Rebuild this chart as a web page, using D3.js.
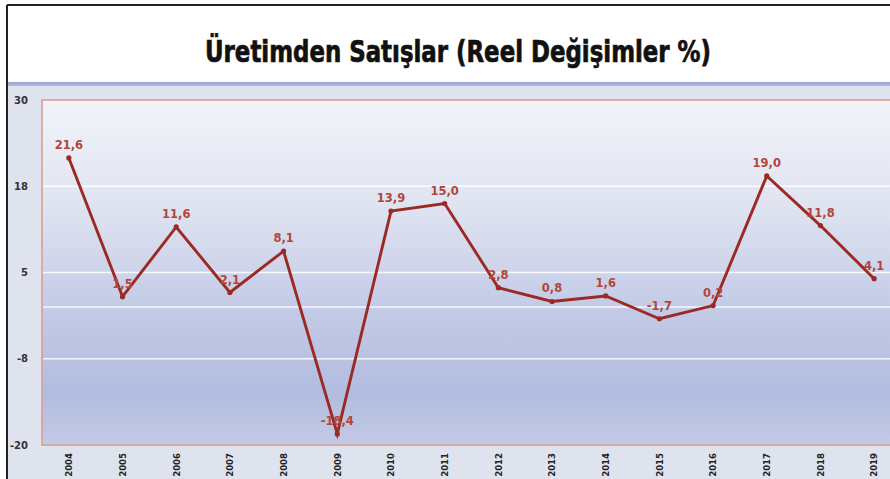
<!DOCTYPE html>
<html>
<head>
<meta charset="utf-8">
<script src="https://cdn.jsdelivr.net/npm/d3@7"></script>
<style>
    body { margin: 0; background: #ffffff; }
    svg { display: block; }
</style>
</head>
<body>
<div id="chart-ctn"></div>
<script>
// Data
let years = ["2004", "2005", "2006", "2007", "2008", "2009", "2010", "2011",
    "2012", "2013", "2014", "2015", "2016", "2017", "2018", "2019"];
let values = [21.6, 1.5, 11.6, 2.1, 8.1, -18.4, 13.9, 15.0,
    2.8, 0.8, 1.6, -1.7, 0.2, 19.0, 11.8, 4.1];
let yTickValues = [-20, -7.5, 5, 17.5, 30];
let yTickLabels = ["-20", "-8", "5", "18", "30"];
let gridValues = [-7.5, 0, 5, 17.5];
let title = "Üretimden Satışlar (Reel Değişimler %)";

let W = 890;
let H = 479;

let plot = { left: 42, right: 901, top: 100, bottom: 445 };

let svg = d3.select("#chart-ctn")
    .append("svg")
    .attr("width", W)
    .attr("height", H);

let defs = svg.append("defs");
let grad = defs.append("linearGradient")
    .attr("id", "plotGrad")
    .attr("x1", 0).attr("y1", 0).attr("x2", 0).attr("y2", 1);
grad.append("stop").attr("offset", "0%").attr("stop-color", "#f2f3f9");
grad.append("stop").attr("offset", "30%").attr("stop-color", "#e0e4f1");
grad.append("stop").attr("offset", "60%").attr("stop-color", "#c4cbe6");
grad.append("stop").attr("offset", "85%").attr("stop-color", "#b2bcdf");
grad.append("stop").attr("offset", "100%").attr("stop-color", "#c3cae6");

let bandGrad = defs.append("linearGradient")
    .attr("id", "bandGrad")
    .attr("x1", 0).attr("y1", 0).attr("x2", 0).attr("y2", 1);
bandGrad.append("stop").attr("offset", "0%").attr("stop-color", "#9aa0d2");
bandGrad.append("stop").attr("offset", "100%").attr("stop-color", "#b7bce0");

// White title panel
svg.append("rect")
    .attr("x", 7).attr("y", 5)
    .attr("width", W).attr("height", H)
    .attr("fill", "#ffffff");

// chart background below the title
svg.append("rect")
    .attr("x", 7).attr("y", 86)
    .attr("width", W).attr("height", H - 86)
    .attr("fill", "#dfe3ee");

svg.append("rect")
    .attr("x", 7).attr("y", 82)
    .attr("width", W).attr("height", 4)
    .attr("fill", "url(#bandGrad)");

// frame lines
svg.append("line")
    .attr("x1", 7).attr("x2", 7).attr("y1", 5).attr("y2", H)
    .attr("stroke", "#222").attr("stroke-width", 2);
svg.append("line")
    .attr("x1", 7).attr("x2", W).attr("y1", 5).attr("y2", 5)
    .attr("stroke", "#222").attr("stroke-width", 2);

// Title
svg.append("text")
    .attr("x", 458)
    .attr("y", 62)
    .attr("text-anchor", "middle")
    .attr("font-family", "'Liberation Sans Narrow', 'DejaVu Sans Condensed', 'Roboto', sans-serif")
    .attr("font-weight", "bold")
    .attr("font-size", 31)
    .attr("textLength", 506)
    .attr("lengthAdjust", "spacingAndGlyphs")
    .attr("fill", "#111")
    .attr("stroke", "#111")
    .attr("stroke-width", 0.7)
    .text(title);

// Scales
let x = d3.scaleBand().domain(years).range([plot.left, plot.right]);
let y = d3.scaleLinear().domain([-20, 30]).range([plot.bottom, plot.top]);
let cx = (d) => x(d) + x.bandwidth() / 2;

// Plot area
svg.append("rect")
    .attr("x", plot.left).attr("y", plot.top)
    .attr("width", plot.right - plot.left)
    .attr("height", plot.bottom - plot.top)
    .attr("fill", "url(#plotGrad)")
    .attr("stroke", "#d99a90")
    .attr("stroke-width", 1.5);

// Grid lines
svg.append("g")
    .selectAll("line")
    .data(gridValues)
    .join("line")
    .attr("x1", plot.left + 1)
    .attr("x2", plot.right)
    .attr("y1", (d) => y(d))
    .attr("y2", (d) => y(d))
    .attr("stroke", "#ffffff")
    .attr("stroke-opacity", 0.85)
    .attr("stroke-width", 1.5);

// Y axis
let yAxis = d3.axisLeft(y)
    .tickValues(yTickValues)
    .tickFormat((d, i) => yTickLabels[i])
    .tickSize(0)
    .tickPadding(0);

let yG = svg.append("g")
    .attr("transform", "translate(28,0)")
    .call(yAxis);
yG.select(".domain").remove();
yG.selectAll("text")
    .attr("font-family", "'DejaVu Sans', sans-serif")
    .attr("font-weight", "bold")
    .attr("font-size", 10)
    .attr("fill", "#333");

// X axis
let xAxis = d3.axisBottom(x).tickSize(0).tickPadding(0);
let xG = svg.append("g")
    .attr("transform", "translate(0," + plot.bottom + ")")
    .call(xAxis);
xG.select(".domain").remove();
xG.selectAll("text")
    .attr("transform", "rotate(-90)")
    .attr("x", -8)
    .attr("y", 0)
    .attr("dy", "0.35em")
    .attr("text-anchor", "end")
    .attr("font-family", "'DejaVu Sans Condensed', 'DejaVu Sans', sans-serif")
    .attr("font-weight", "bold")
    .attr("font-size", 9.5)
    .attr("fill", "#222");

// Line
let data = years.map((d, i) => ({ year: d, value: values[i] }));

svg.append("path")
    .datum(data)
    .attr("fill", "none")
    .attr("stroke", "#9c2a24")
    .attr("stroke-width", 2.9)
    .attr("stroke-linejoin", "miter")
    .attr("d", d3.line().x((d) => cx(d.year)).y((d) => y(d.value)));

svg.append("g")
    .selectAll("circle")
    .data(data)
    .join("circle")
    .attr("cx", (d) => cx(d.year))
    .attr("cy", (d) => y(d.value))
    .attr("r", 2.6)
    .attr("fill", "#9c2a24");

// Value labels
svg.append("g")
    .selectAll("text")
    .data(data)
    .join("text")
    .attr("x", (d) => cx(d.year))
    .attr("y", (d) => y(d.value) - 9)
    .attr("text-anchor", "middle")
    .attr("font-family", "'DejaVu Sans', sans-serif")
    .attr("font-weight", "bold")
    .attr("font-size", 11.5)
    .attr("fill", "#b2463a")
    .text((d) => d3.format(".1f")(d.value).replace(".", ",").replace("−", "-"));
</script>
</body>
</html>
